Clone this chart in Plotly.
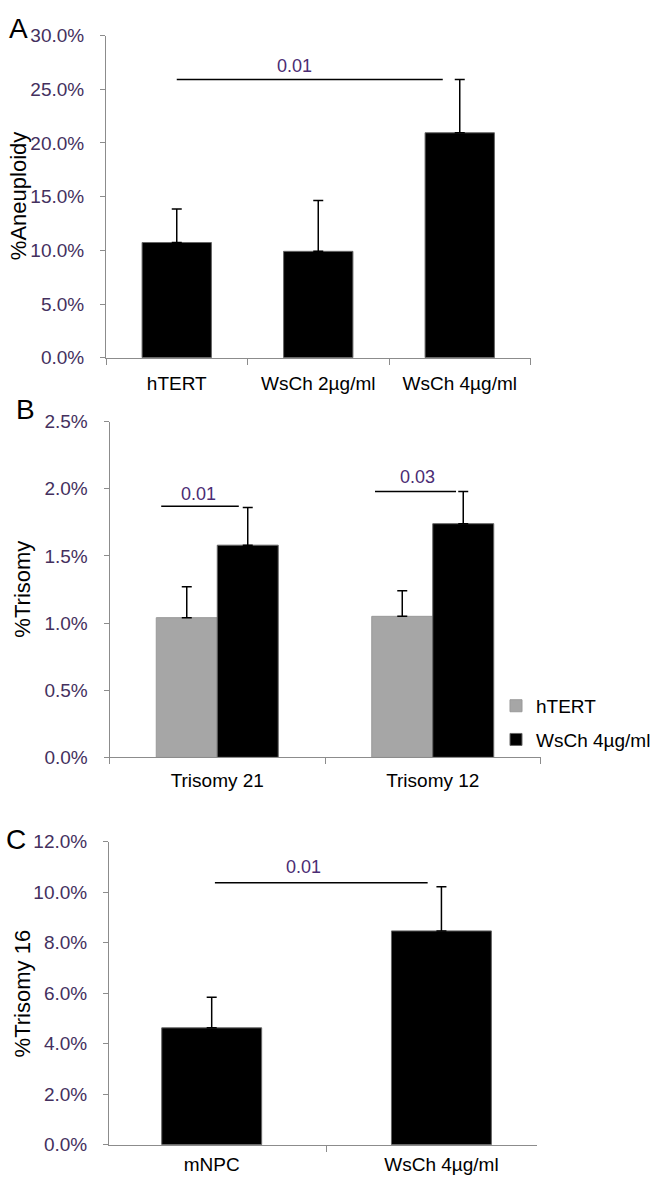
import plotly.graph_objects as go

W, H = 662, 1195

# ---------- data ----------
a_cats = ["hTERT", "WsCh 2µg/ml", "WsCh 4µg/ml"]
a_vals = [0.1073, 0.0991, 0.2095]
a_err = [0.0311, 0.0473, 0.0495]

b_cats = ["Trisomy 21", "Trisomy 12"]
b_htert = [0.0104, 0.0105]
b_htert_err = [0.0023, 0.0019]
b_wsch = [0.0158, 0.0174]
b_wsch_err = [0.0028, 0.0024]
b_series = ["hTERT", "WsCh 4µg/ml"]

c_cats = ["mNPC", "WsCh 4µg/ml"]
c_vals = [0.0463, 0.0847]
c_err = [0.0121, 0.0175]

# significance brackets: (axis, x0, x1, y, label, label_x, label_y)
sig = [
    ("1", 0.0, 1.88, 0.259, "0.01", 0.83, 0.272),
    ("2", -0.26, 0.10, 0.0187, "0.01", -0.086, 0.0196),
    ("2", 0.732, 1.108, 0.0198, "0.03", 0.931, 0.0209),
    ("3", 0.014, 0.94, 0.1038, "0.01", 0.40, 0.1102),
]

TICK_COLOR = "#44305e"
SIG_COLOR = "#4b2c74"
AX_COLOR = "#8c8c8c"
FONT = "Liberation Sans, Arial, sans-serif"


def px_x(p):
    return p / W


def px_y(p):
    return 1 - p / H


def err(arr):
    return dict(type="data", array=arr, arrayminus=[0] * len(arr), symmetric=False,
                color="black", thickness=1.5, width=5)


fig = go.Figure()

# Panel A
fig.add_trace(go.Bar(x=a_cats, y=a_vals, error_y=err(a_err), width=0.49,
                     marker=dict(color="black", line=dict(color="#666", width=1)),
                     showlegend=False, xaxis="x", yaxis="y"))

# Panel B
fig.add_trace(go.Bar(x=b_cats, y=b_htert, error_y=err(b_htert_err), name=b_series[0],
                     width=0.283, offset=-0.283, legendgroup="g1",
                     marker=dict(color="#a6a6a6", line=dict(color="#999", width=1)),
                     xaxis="x2", yaxis="y2"))
fig.add_trace(go.Bar(x=b_cats, y=b_wsch, error_y=err(b_wsch_err), name=b_series[1],
                     width=0.283, offset=0.0, legendgroup="g2",
                     marker=dict(color="black", line=dict(color="#666", width=1)),
                     xaxis="x2", yaxis="y2"))

# Panel C
fig.add_trace(go.Bar(x=c_cats, y=c_vals, error_y=err(c_err), width=0.435,
                     marker=dict(color="black", line=dict(color="#666", width=1)),
                     showlegend=False, xaxis="x3", yaxis="y3"))

for ax, x0, x1, yv, lab, lx, ly in sig:
    xr = "x" if ax == "1" else "x" + ax
    yr = "y" if ax == "1" else "y" + ax
    fig.add_shape(type="line", xref=xr, yref=yr, x0=x0, x1=x1, y0=yv, y1=yv,
                  line=dict(color="black", width=1.5))
    fig.add_annotation(xref=xr, yref=yr, x=lx, y=ly, text=lab, showarrow=False,
                       xanchor="center", yanchor="middle",
                       font=dict(size=18, color=SIG_COLOR, family=FONT))

common_x = dict(showline=True, linecolor=AX_COLOR, linewidth=1, ticks="outside",
                tickson="boundaries", ticklen=6, tickcolor=AX_COLOR, showgrid=False,
                zeroline=False, tickfont=dict(size=19, color="black", family=FONT))
common_y = dict(showline=True, linecolor=AX_COLOR, linewidth=1, ticks="outside",
                ticklen=5, tickcolor=AX_COLOR, showgrid=False, zeroline=False,
                tickformat=".1%", ticklabelstandoff=12,
                tickfont=dict(size=19, color=TICK_COLOR, family=FONT))

fig.update_layout(
    width=W, height=H, margin=dict(l=0, r=0, t=0, b=0),
    paper_bgcolor="white", plot_bgcolor="white",
    barmode="overlay",
    font=dict(family=FONT, color="black"),
    xaxis=dict(domain=[px_x(106), px_x(530.5)], anchor="y", ticklabelstandoff=8, **common_x),
    yaxis=dict(domain=[px_y(354), px_y(26)], range=[0, 0.30], dtick=0.05, anchor="x", **common_y),
    xaxis2=dict(domain=[px_x(109.5), px_x(540.5)], anchor="y2", ticklabelstandoff=6, **common_x),
    yaxis2=dict(domain=[px_y(760.7), px_y(419)], range=[0, 0.025], dtick=0.005, anchor="x2", **common_y),
    xaxis3=dict(domain=[px_x(109), px_x(537)], range=[-0.447, 1.416], anchor="y3",
                ticklabelstandoff=2, **common_x),
    yaxis3=dict(domain=[px_y(1155), px_y(846.7)], range=[0, 0.12], dtick=0.02, anchor="x3", **common_y),
    legend=dict(x=px_x(496), y=px_y(689), xanchor="left", yanchor="top",
                font=dict(size=19, color="black", family=FONT), bgcolor="rgba(0,0,0,0)",
                tracegroupgap=6, traceorder="grouped", itemwidth=30),
)

# panel letters and y-axis titles
for txt, x, y in [("A", 18, 19), ("B", 25, 407), ("C", 16, 844)]:
    fig.add_annotation(xref="paper", yref="paper", x=px_x(x), y=px_y(y), text=txt,
                       showarrow=False, xanchor="center", yanchor="middle",
                       font=dict(size=28, color="black", family=FONT))
for txt, x, y in [("%Aneuploidy", 18.5, 190), ("%Trisomy", 23, 590), ("%Trisomy 16", 22, 1001)]:
    fig.add_annotation(xref="paper", yref="paper", x=px_x(x), y=px_y(y), text=txt,
                       textangle=-90, showarrow=False, xanchor="center", yanchor="middle",
                       font=dict(size=22, color="black", family=FONT))

fig.write_html("out.html", config={"displayModeBar": False},
               post_script="document.body.style.margin='0';document.body.style.overflow='hidden';")
